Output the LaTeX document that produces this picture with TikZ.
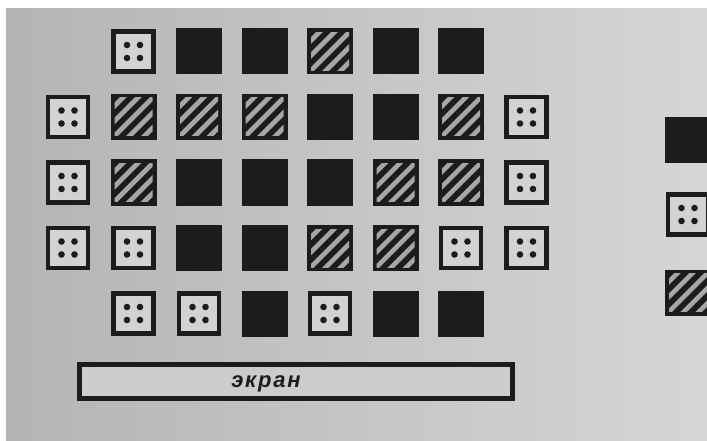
\documentclass[tikz,border=0pt]{standalone}
\usepackage{fontspec}
\newfontfamily\scrfont[LetterSpace=8]{Liberation Sans}
\usetikzlibrary{calc}
\definecolor{bg}{HTML}{C4C4C4}
\definecolor{inner}{HTML}{D2D2D2}
\definecolor{ink}{HTML}{1C1C1C}
\definecolor{stripe}{HTML}{A6A6A6}
\tikzset{
  cell/.style={rectangle, inner sep=0pt, outer sep=0pt},
  blk/.style={cell, minimum size=46pt, fill=ink},
  dotbox/.style={cell, minimum size=40pt, draw=ink, line width=4.5pt, fill=inner,
    path picture={
      \foreach \dx in {-6.5pt,6.5pt}
        \foreach \dy in {-6.5pt,6.5pt}
          \fill[ink] ($(path picture bounding box.center)+(\dx,\dy)$) circle (3.3pt);
    }},
  hatchbox/.style={cell, minimum size=46pt, fill=ink,
    path picture={
      \begin{scope}
        \clip ($(path picture bounding box.north west)+(4pt,-4pt)$) rectangle
              ($(path picture bounding box.south east)+(-4pt,4pt)$);
        \foreach \k in {-4,...,4}
          \draw[stripe, line width=4.6pt]
            ($(path picture bounding box.center)+(\k*15pt,0pt)+(-40pt,-40pt)$) -- ++(80pt,80pt);
      \end{scope}
    }},
  screen/.style={rectangle, draw=ink, line width=4.5pt, fill=inner!60!bg, inner sep=0pt,
    minimum width=433pt, minimum height=34pt},
  scrtext/.style={font=\scrfont\bfseries\itshape\fontsize{22}{22}\selectfont, text=ink, inner sep=0pt}
}
\begin{document}
\begin{tikzpicture}[x=1pt,y=-1pt]
\useasboundingbox (0,0) rectangle (707,441);
\fill[white] (0,0) rectangle (707,441);
\shade[left color=bg!92!black, right color=bg!70!white] (6,9) rectangle (707,441);
% grid: cx = 68 + 65.5 c, cy = 51.5 + 65.5 r
% row 1
\node[dotbox]   (r1c1) at (133.5, 51.5) {};
\node[blk]      (r1c2) at (199.0, 51.5) {};
\node[blk]      (r1c3) at (264.5, 51.5) {};
\node[hatchbox] (r1c4) at (330.0, 51.5) {};
\node[blk]      (r1c5) at (395.5, 51.5) {};
\node[blk]      (r1c6) at (461.0, 51.5) {};
% row 2
\node[dotbox]   (r2c0) at ( 68.0,117.0) {};
\node[hatchbox] (r2c1) at (133.5,117.0) {};
\node[hatchbox] (r2c2) at (199.0,117.0) {};
\node[hatchbox] (r2c3) at (264.5,117.0) {};
\node[blk]      (r2c4) at (330.0,117.0) {};
\node[blk]      (r2c5) at (395.5,117.0) {};
\node[hatchbox] (r2c6) at (461.0,117.0) {};
\node[dotbox]   (r2c7) at (526.5,117.0) {};
% row 3
\node[dotbox]   (r3c0) at ( 68.0,182.5) {};
\node[hatchbox] (r3c1) at (133.5,182.5) {};
\node[blk]      (r3c2) at (199.0,182.5) {};
\node[blk]      (r3c3) at (264.5,182.5) {};
\node[blk]      (r3c4) at (330.0,182.5) {};
\node[hatchbox] (r3c5) at (395.5,182.5) {};
\node[hatchbox] (r3c6) at (461.0,182.5) {};
\node[dotbox]   (r3c7) at (526.5,182.5) {};
% row 4
\node[dotbox]   (r4c0) at ( 68.0,248.0) {};
\node[dotbox]   (r4c1) at (133.5,248.0) {};
\node[blk]      (r4c2) at (199.0,248.0) {};
\node[blk]      (r4c3) at (264.5,248.0) {};
\node[hatchbox] (r4c4) at (330.0,248.0) {};
\node[hatchbox] (r4c5) at (395.5,248.0) {};
\node[dotbox]   (r4c6) at (461.0,248.0) {};
\node[dotbox]   (r4c7) at (526.5,248.0) {};
% row 5
\node[dotbox]   (r5c1) at (133.5,313.5) {};
\node[dotbox]   (r5c2) at (199.0,313.5) {};
\node[blk]      (r5c3) at (264.5,313.5) {};
\node[dotbox]   (r5c4) at (330.0,313.5) {};
\node[blk]      (r5c5) at (395.5,313.5) {};
\node[blk]      (r5c6) at (461.0,313.5) {};
% screen
\node[screen] (scr) at (296,381.5) {};
\node[scrtext] (scrlbl) at (266,384) {экран};
% legend
\node[blk]      (legblk) at (688,140) {};
\node[dotbox]   (legdot) at (688,214.5) {};
\node[hatchbox] (leghat) at (688,292.5) {};
\end{tikzpicture}
\end{document}
